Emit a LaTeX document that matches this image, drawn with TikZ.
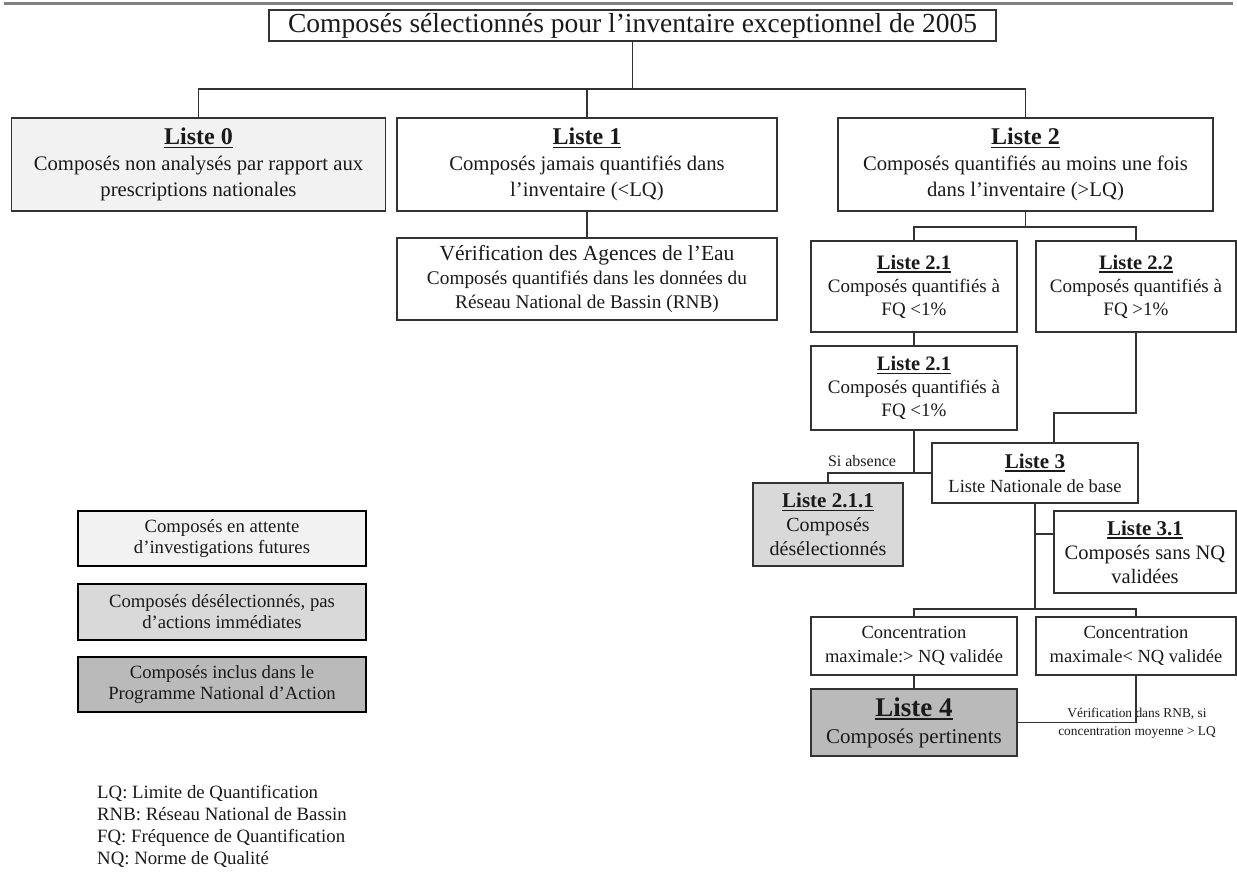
\documentclass[tikz,border=0pt]{standalone}
\usepackage{fontspec}
\setmainfont{Liberation Serif}
\usetikzlibrary{calc}
\definecolor{ink}{HTML}{1A1A1A}
\definecolor{edgec}{HTML}{333333}
\definecolor{fa}{HTML}{F2F2F2}
\definecolor{fb}{HTML}{D9D9D9}
\definecolor{fc}{HTML}{BABABA}
\definecolor{rulec}{HTML}{808080}
\newcommand{\fs}[2]{\fontsize{#1}{#2}\selectfont}
\newsavebox{\hdbox}
\newcommand{\hd}[1]{\sbox{\hdbox}{\textbf{#1}}\usebox{\hdbox}\llap{\rule[-3.5pt]{\wd\hdbox}{1.4pt}}}
\tikzset{
  box/.style={draw=edgec, line width=1.1pt, fill=white, align=center, text=ink, inner sep=2pt},
  legbox/.style={draw=black, line width=2.4pt, align=center, text=ink, inner sep=2pt},
  conn/.style={draw=edgec, line width=1.1pt},
  lbl/.style={text=ink, inner sep=0pt, align=center},
}
\begin{document}
\begin{tikzpicture}[x=1pt,y=-1pt]
\useasboundingbox (0,0) rectangle (1237,874);
\draw[rulec, line width=3pt] (4,4) -- (1233,4);

% title
\node[box, minimum width=727, minimum height=31, inner sep=1pt] (title) at (632.5,25.5)
  {\fs{27.5}{30}Composés sélectionnés pour l’inventaire exceptionnel de 2005};

% first row
\node[box, fill=fa, minimum width=374, minimum height=93, font=\fs{20.7}{26}] (L0) at (198.5,164.5)
  {\fs{24}{28}\hd{Liste 0}\\Composés non analysés par rapport aux\\prescriptions nationales};
\node[box, minimum width=380, minimum height=93, font=\fs{20.7}{26}] (L1) at (587,164.5)
  {\fs{24}{28}\hd{Liste 1}\\Composés jamais quantifiés dans\\l’inventaire (<LQ)};
\node[box, minimum width=375, minimum height=93, font=\fs{20.7}{26}] (L2) at (1025.5,164.5)
  {\fs{24}{28}\hd{Liste 2}\\Composés quantifiés au moins une fois\\dans l’inventaire (>LQ)};

\node[box, minimum width=380, minimum height=82, font=\fs{19.3}{24}] (V) at (587,279)
  {\fs{21.5}{24}Vérification des Agences de l’Eau\\Composés quantifiés dans les données du\\Réseau National de Bassin (RNB)};

% Liste 2 branch
\node[box, minimum width=206, minimum height=91, font=\fs{19}{23}] (L21) at (914,286.5)
  {\fs{20.5}{23}\hd{Liste 2.1}\\Composés quantifiés à\\FQ <1\%};
\node[box, minimum width=200, minimum height=91, font=\fs{19}{23}] (L22) at (1136,286.5)
  {\fs{20.5}{23}\hd{Liste 2.2}\\Composés quantifiés à\\FQ >1\%};
\node[box, minimum width=206, minimum height=84, font=\fs{19}{23}] (L21b) at (914,388)
  {\fs{20.5}{23}\hd{Liste 2.1}\\Composés quantifiés à\\FQ <1\%};
\node[box, minimum width=206, minimum height=60, font=\fs{18.5}{24}] (L3) at (1035,473)
  {\fs{21}{24}\hd{Liste 3}\\Liste Nationale  de base};
\node[box, fill=fb, minimum width=150, minimum height=83, font=\fs{20}{24}] (L211) at (828,524.5)
  {\fs{21}{24}\hd{Liste 2.1.1}\\Composés\\désélectionnés};
\node[box, minimum width=182, minimum height=82, font=\fs{20.5}{24}] (L31) at (1145,552)
  {\fs{21}{24}\hd{Liste 3.1}\\Composés sans NQ\\validées};
\node[box, minimum width=206, minimum height=58, font=\fs{18.5}{24}] (C1) at (914,646)
  {Concentration\\maximale:> NQ validée};
\node[box, minimum width=200, minimum height=58, font=\fs{18.5}{24}] (C2) at (1136,646)
  {Concentration\\maximale< NQ validée};
\node[box, fill=fc, minimum width=206, minimum height=67, font=\fs{21}{27}] (L4) at (914,722.5)
  {\fs{27}{27}\hd{Liste 4}\\Composés  pertinents};

% labels
\node[lbl, font=\fs{16}{18}] (si) at (862,461) {Si absence};
\node[lbl, font=\fs{13.4}{18}] (ver) at (1137,723) {Vérification  dans RNB,  si\\concentration moyenne > LQ};

% legend
\node[legbox, fill=fa, minimum width=288, minimum height=55, font=\fs{18.7}{21}] (G1) at (222,538.5)
  {Composés en attente\\d’investigations  futures};
\node[legbox, fill=fb, minimum width=288, minimum height=56, font=\fs{18.7}{21}] (G2) at (222,612)
  {Composés désélectionnés, pas\\d’actions immédiates};
\node[legbox, fill=fc, minimum width=288, minimum height=55, font=\fs{18.7}{21}] (G3) at (222,684.5)
  {Composés inclus dans le\\Programme National d’Action};

\node[lbl, align=left, anchor=north west, font=\fs{18.8}{22}] (abbr) at (97,785)
  {LQ: Limite de Quantification\\RNB: Réseau National de Bassin\\FQ: Fréquence de Quantification\\NQ: Norme de Qualité};

% connectors
\coordinate (h1) at (0,89);
\coordinate (h2) at (0,227);
\coordinate (k1) at (1054,413);
\coordinate (h3) at (0,609);
\coordinate (b31) at (0,534);
\draw[conn] (title.south) -- (title.south |- h1);
\draw[conn] (L0.north) -- (L0.north |- h1) -- (L2.north |- h1) -- (L2.north);
\draw[conn] (L1.north) -- (L1.north |- h1);
\draw[conn] (L1.south) -- (V.north);
\draw[conn] (L2.south) -- (L2.south |- h2);
\draw[conn] (L21.north) -- (L21.north |- h2) -- (L22.north |- h2) -- (L22.north);
\draw[conn] (L21.south) -- (L21b.north);
\draw[conn] (L22.south) |- (k1) -- (k1 |- L3.north);
\draw[conn] (L21b.south) -- (L21b.south |- L3.west);
\draw[conn] (L211.north) |- (L3.west);
\draw[conn] (L3.south) -- (L3.south |- h3);
\draw[conn] (L3.south |- b31) -- (L31.west |- b31);
\draw[conn] (C1.north) -- (C1.north |- h3) -- (C2.north |- h3) -- (C2.north);
\draw[conn] (C1.south) -- (L4.north);
\draw[conn] (C2.south) |- (L4.east);
\end{tikzpicture}
\end{document}
